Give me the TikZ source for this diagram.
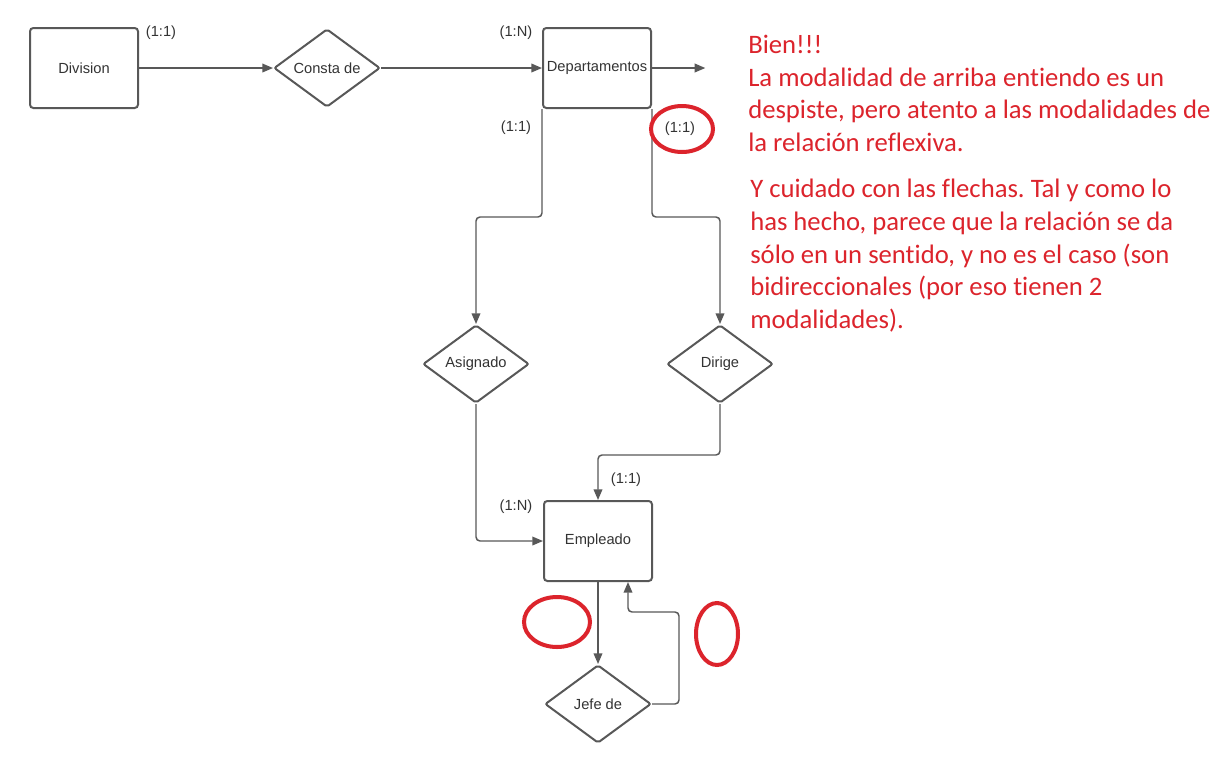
\documentclass[tikz,border=0pt]{standalone}
\usepackage{fontspec}
\setmainfont{Liberation Sans}
\newfontfamily\notefont[Ligatures=NoCommon]{Carlito}
\usetikzlibrary{
  shapes.geometric,
  arrows.meta,
  positioning,
}
\definecolor{linegray}{RGB}{88,88,88}
\definecolor{labelgray}{RGB}{51,51,51}
\definecolor{notered}{RGB}{220,36,44}
\tikzset{
  entity/.style={
    rectangle,
    rounded corners=2.5pt,
    minimum width=81pt,
    minimum height=60pt,
    inner xsep=1pt,
    text centered,
    draw=linegray,
    line width=1.5pt,
    text=labelgray,
    font=\fontsize{11}{13}\selectfont
  },
  relation/.style={
    diamond,
    inner sep=0pt,
    minimum width=79.5pt,
    minimum height=58.5pt,
    text centered,
    draw=linegray,
    line width=1.5pt,
    rounded corners=1.5pt,
    text=labelgray,
    font=\fontsize{11}{13}\selectfont
  },
  card/.style={
    text=labelgray,
    inner sep=0pt,
    font=\fontsize{11}{13}\selectfont
  },
  conn/.style={
    draw=linegray,
    line width=1.1pt,
    rounded corners=3pt,
    -{Triangle[length=8pt,width=6.5pt]},
  },
  ring/.style={
    draw=notered,
    line width=3pt,
  },
  note/.style={
    text=notered,
    inner sep=0pt,
    align=left,
    anchor=north west,
    font=\notefont\frenchspacing\fontsize{20}{24.5}\selectfont
  },
}
\begin{document}
\begin{tikzpicture}[x=0.75pt, y=-0.75pt]
  \useasboundingbox[fill=white] (0,0) rectangle (1222,783);

  % Entities and relations
  \node (division) [entity] at (84,68) {Division};
  \node (consta) [relation, right=100.5pt of division] {Consta de};
  \node (depto) [entity, right=120.75pt of consta] {Departamentos};
  \coordinate[right=40pt of depto] (depto_out);
  \node (asignado) [relation] at (476,364) {Asignado};
  \node (dirige) [relation] at (720,364) {Dirige};
  \node (empleado) [entity] at (598,541) {Empleado};
  \node (jefe) [relation, below=61.5pt of empleado] {Jefe de};

  % Cardinalities
  \node (card_div) [card] at (161,33) {(1:1)};
  \node (card_dep) [card] at (516,33) {(1:N)};
  \node (card_asig) [card] at (516,128) {(1:1)};
  \node (card_dir) [card] at (680,129) {(1:1)};
  \node (card_emp_dir) [card] at (626,480) {(1:1)};
  \node (card_emp_asig) [card] at (516,507) {(1:N)};

  % Arrows
  \draw [conn] (division) -- (consta);
  \draw [conn] (consta) -- (depto);
  \draw [conn] (depto) -- (depto_out);
  \draw [conn] (depto.south west) -- ++(0,108) -| (asignado.north);
  \draw [conn] (depto.south east) -- ++(0,108) -| (dirige.north);
  \draw [conn] (asignado.south) |- (empleado.west);
  \draw [conn] (dirige.south) -- ++(0,51) -| (empleado.north);
  \draw [conn] (empleado) -- (jefe);
  \draw [conn] (jefe.east) -- ++(27,0) -- ++(0,-92) -| ([xshift=22.5pt]empleado.south);

  % Review marks
  \draw [ring] (682,129) ellipse [x radius=23.25pt, y radius=17.25pt];
  \draw [ring] (557,622) ellipse [x radius=24.75pt, y radius=18.75pt];
  \draw [ring] (717,634) ellipse [x radius=15.75pt, y radius=23.25pt];

  % Comments
  \node (note_top) [note] at (748,35) {Bien!!!\\
    La modalidad de arriba entiendo es un\\
    despiste, pero atento a las modalidades de\\
    la relación reflexiva.};
  \node (note_bottom) [note] at (750,179) {Y cuidado con las flechas. Tal y como lo\\
    has hecho, parece que la relación se da\\
    sólo en un sentido, y no es el caso (son\\
    bidireccionales (por eso tienen 2\\
    modalidades).};

\end{tikzpicture}
\end{document}
